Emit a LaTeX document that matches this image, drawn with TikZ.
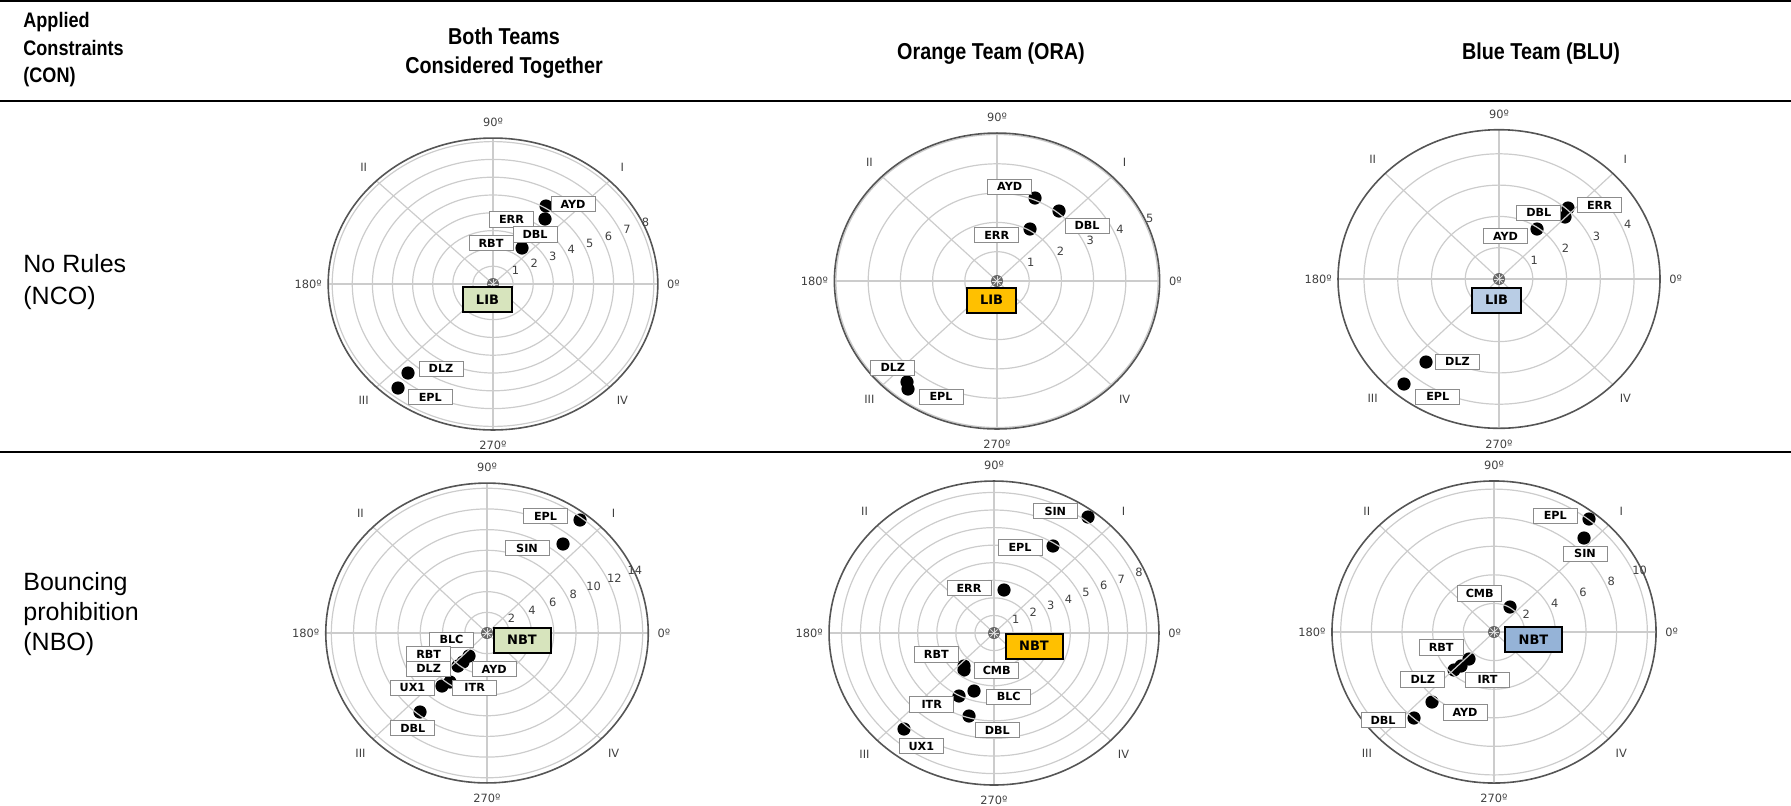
\documentclass[tikz,border=0pt]{standalone}
\usepackage{fontspec}
\setmainfont{Liberation Sans}
\newfontfamily\headfont[FakeStretch=0.86]{Liberation Sans}
\newfontfamily\plotfont{DejaVu Sans}
\usetikzlibrary{positioning}

\definecolor{libgreen}{HTML}{D7E4BD}
\definecolor{liborange}{HTML}{FFC000}
\definecolor{libblue}{HTML}{B9CDE5}
\definecolor{nbtblue}{HTML}{95B3D7}
\definecolor{gridgray}{HTML}{CCCCCC}
\definecolor{rimgray}{HTML}{555555}

\tikzset{
  tablerule/.style = {draw=black, line width=1pt},
  colhead/.style = {font=\headfont\bfseries\fontsize{11.5}{14.5}\selectfont, align=center, inner sep=0pt},
  conhead/.style = {font=\headfont\bfseries\fontsize{10.5}{13.75}\selectfont, align=left, inner sep=0pt},
  rowhead/.style = {font=\fontsize{12.5}{16}\selectfont, align=left, inner sep=0pt},
  gridline/.style = {draw=gridgray, line width=0.6pt},
  rimline/.style = {draw=rimgray, line width=0.8pt},
  ticklabel/.style = {font=\plotfont\fontsize{5.7}{6}\selectfont, text=black!75, inner sep=0pt},
  player/.style = {fill=black},
  playerbox/.style = {draw=black!45, fill=white, line width=0.5pt, inner sep=1pt,
    font=\plotfont\bfseries\fontsize{5.6}{6}\selectfont, minimum width=22pt, minimum height=7.6pt},
  teambox/.style = {draw=black, line width=1pt, inner sep=1pt,
    font=\plotfont\bfseries\fontsize{6.5}{7}\selectfont, minimum height=12.5pt}
}

% #1 id, #2/#3 centre, #4/#5 px per unit, #6 rmax, #7 rings
\newcommand{\polargrid}[7]{%
  \begin{scope}[shift={(#2,#3)}]
    \foreach \r in {#7}
      \draw[gridline] (0,0) ellipse ({\r*#4} and {\r*#5});
    \foreach \a in {0,45,...,315}
      \draw[gridline] (0,0) -- ({#6*#4*cos(\a)},{-#6*#5*sin(\a)});
    \draw[rimline] (0,0) ellipse ({#6*#4} and {#6*#5});
    \foreach \r in {#7}
      \node[ticklabel] (#1-t\r) at ({\r*#4*cos(22.5)+4},{-\r*#5*sin(22.5)-7}) {\r};
    \node[ticklabel, anchor=south, yshift=5.5pt] (#1-a90) at (0,{-#6*#5}) {90º};
    \node[ticklabel, anchor=north, yshift=-5.5pt] (#1-a270) at (0,{#6*#5}) {270º};
    \node[ticklabel, anchor=east, xshift=-3pt] (#1-a180) at ({-#6*#4},0) {180º};
    \node[ticklabel, anchor=west, xshift=4.5pt] (#1-a0) at ({#6*#4},0) {0º};
    \node[ticklabel] (#1-q1) at ({0.785*#6*#4},{-0.8*#6*#5}) {I};
    \node[ticklabel] (#1-q2) at ({-0.785*#6*#4},{-0.8*#6*#5}) {II};
    \node[ticklabel] (#1-q3) at ({-0.785*#6*#4},{0.8*#6*#5}) {III};
    \node[ticklabel] (#1-q4) at ({0.785*#6*#4},{0.8*#6*#5}) {IV};
    % origin marker
    \fill[black!60] (0,0) circle[radius=3pt];
    \foreach \a in {0,45,90,135}
      \draw[black!15, line width=0.4pt] (0,0) ++(\a:2.5pt) -- ++({\a+180}:5pt);
  \end{scope}}

\begin{document}
\begin{tikzpicture}[x=0.5pt, y=-0.5pt]
\useasboundingbox (0,0) rectangle (1791,805);

% table
\draw[tablerule] (0,1) -- (1791,1);
\draw[tablerule] (0,101) -- (1791,101);
\draw[tablerule] (0,452) -- (1791,452);

\node[conhead, anchor=north west] (hcon) at (23,12) {Applied\\Constraints\\(CON)};
\node[colhead, anchor=north] (hboth) at (504,27) {Both Teams\\Considered Together};
\node[colhead, anchor=base] (hora) at (991,59) {Orange Team (ORA)};
\node[colhead, anchor=base] (hblu) at (1541,59) {Blue Team (BLU)};

\node[rowhead, anchor=north west] (rnco) at (23,254) {No Rules\\(NCO)};
\node[rowhead, anchor=north west, font=\fontsize{12.5}{15}\selectfont] (rnbo) at (23,572) {Bouncing\\prohibition\\(NBO)};

% no rules, both teams
\foreach \x/\y in {546/206, 545/219, 522/248, 408/373, 398/388}
  \fill[player] (\x,\y) circle[radius=3.3pt];
\polargrid{bn}{493}{284}{20.1}{17.8}{8.2}{1,...,8}
\node[playerbox] (bn-ayd) at (573,204) {AYD};
\node[playerbox] (bn-err) at (511.5,219.5) {ERR};
\node[playerbox] (bn-dbl) at (535,234.5) {DBL};
\node[playerbox] (bn-rbt) at (491,243) {RBT};
\node[playerbox] (bn-dlz) at (441,368.7) {DLZ};
\node[playerbox] (bn-epl) at (430.3,397) {EPL};
\node[teambox, fill=libgreen, minimum width=24.5pt] (bn-lib) at (487.5,299.5) {LIB};

% no rules, orange team
\foreach \x/\y in {1035/198, 1059/211, 1030/229, 907/382, 908/389}
  \fill[player] (\x,\y) circle[radius=3.3pt];
\polargrid{on}{997}{281}{32.2}{29.3}{5.05}{1,...,5}
\node[playerbox] (on-ayd) at (1009.7,186.7) {AYD};
\node[playerbox] (on-dbl) at (1087,225.7) {DBL};
\node[playerbox] (on-err) at (996.7,235) {ERR};
\node[playerbox] (on-dlz) at (892.8,367.8) {DLZ};
\node[playerbox] (on-epl) at (941,396.7) {EPL};
\node[teambox, fill=liborange, minimum width=24.5pt] (on-lib) at (991.5,300) {LIB};

% no rules, blue team
\foreach \x/\y in {1568/208, 1565/217, 1537/229, 1426/362, 1404/384}
  \fill[player] (\x,\y) circle[radius=3.3pt];
\polargrid{ln}{1499}{279}{33.75}{31.3}{4.77}{1,...,4}
\node[playerbox] (ln-err) at (1599.5,205.3) {ERR};
\node[playerbox] (ln-dbl) at (1538.8,212.8) {DBL};
\node[playerbox] (ln-ayd) at (1505.5,236.2) {AYD};
\node[playerbox] (ln-dlz) at (1457.5,361.7) {DLZ};
\node[playerbox] (ln-epl) at (1437.8,396.7) {EPL};
\node[teambox, fill=libblue, minimum width=24.5pt] (ln-lib) at (1496.5,300) {LIB};

% bouncing prohibition, both teams
\foreach \x/\y in {580/520, 563/544, 469/656, 463/662, 458/666, 450/682, 442/686, 420/712}
  \fill[player] (\x,\y) circle[radius=3.3pt];
\polargrid{bb}{487}{633}{11.12}{10.34}{14.5}{2,4,...,14}
\node[playerbox] (bb-epl) at (545.5,516.3) {EPL};
\node[playerbox] (bb-sin) at (527,548) {SIN};
\node[playerbox] (bb-blc) at (451.5,639.8) {BLC};
\node[playerbox] (bb-rbt) at (428.7,654.2) {RBT};
\node[playerbox] (bb-dlz) at (428.7,668.7) {DLZ};
\node[playerbox] (bb-ayd) at (494.2,669) {AYD};
\node[playerbox] (bb-ux1) at (412.5,687.8) {UX1};
\node[playerbox] (bb-itr) at (474.7,687.8) {ITR};
\node[playerbox] (bb-dbl) at (412.8,728.3) {DBL};
\node[teambox, fill=libgreen, minimum width=28.5pt] (bb-nbt) at (522,640) {NBT};

% bouncing prohibition, orange team
\foreach \x/\y in {1088/517, 1053/546, 1004/590, 964/666, 964/670, 974/691, 959/696, 969/716, 904/729}
  \fill[player] (\x,\y) circle[radius=3.3pt];
\polargrid{ob}{994}{633}{19.07}{17.57}{8.65}{1,...,8}
\node[playerbox] (ob-sin) at (1055.3,511) {SIN};
\node[playerbox] (ob-epl) at (1020,547.5) {EPL};
\node[playerbox] (ob-err) at (969,588) {ERR};
\node[playerbox] (ob-rbt) at (936.3,654.5) {RBT};
\node[playerbox] (ob-cmb) at (996.7,670.5) {CMB};
\node[playerbox] (ob-blc) at (1008.7,696.7) {BLC};
\node[playerbox] (ob-itr) at (931.7,704.5) {ITR};
\node[playerbox] (ob-dbl) at (997.3,730) {DBL};
\node[playerbox] (ob-ux1) at (921.3,746.3) {UX1};
\node[teambox, fill=liborange, minimum width=28.5pt] (ob-nbt) at (1034,646) {NBT};

% bouncing prohibition, blue team
\foreach \x/\y in {1589/519, 1584/538, 1510/607, 1469/659, 1461/666, 1454/670, 1432/702, 1414/718}
  \fill[player] (\x,\y) circle[radius=3.3pt];
\polargrid{lb}{1494}{632}{15.33}{14.29}{10.57}{2,4,...,10}
\node[playerbox] (lb-epl) at (1555.3,515.8) {EPL};
\node[playerbox] (lb-sin) at (1585,553.7) {SIN};
\node[playerbox] (lb-cmb) at (1479.7,593.5) {CMB};
\node[playerbox] (lb-rbt) at (1441.2,647.5) {RBT};
\node[playerbox] (lb-dlz) at (1422.8,679.5) {DLZ};
\node[playerbox] (lb-irt) at (1487.5,679.7) {IRT};
\node[playerbox] (lb-ayd) at (1465,712.5) {AYD};
\node[playerbox] (lb-dbl) at (1383,720) {DBL};
\node[teambox, fill=nbtblue, minimum width=28.5pt] (lb-nbt) at (1533.5,639.5) {NBT};
\end{tikzpicture}
\end{document}
